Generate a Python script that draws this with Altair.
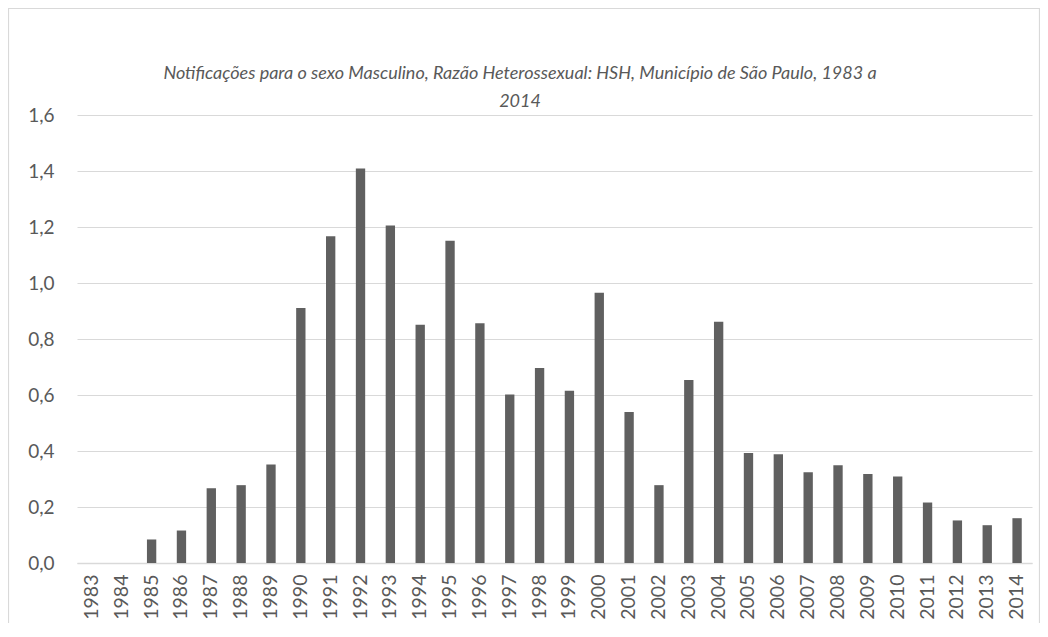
import altair as alt
import pandas as pd

years = ["1983", "1984", "1985", "1986", "1987", "1988", "1989", "1990",
         "1991", "1992", "1993", "1994", "1995", "1996", "1997", "1998",
         "1999", "2000", "2001", "2002", "2003", "2004", "2005", "2006",
         "2007", "2008", "2009", "2010", "2011", "2012", "2013", "2014"]
ratios = [0.0, 0.0, 0.084, 0.116, 0.267, 0.278, 0.352, 0.911,
          1.167, 1.409, 1.205, 0.851, 1.151, 0.856, 0.602, 0.696,
          0.615, 0.965, 0.539, 0.278, 0.654, 0.862, 0.393, 0.388,
          0.324, 0.349, 0.318, 0.309, 0.216, 0.152, 0.135, 0.160]
title_lines = ["Notificações para o sexo Masculino, Razão Heterossexual: HSH, Município de São Paulo, 1983 a",
               "2014"]
y_ticks = [0.0, 0.2, 0.4, 0.6, 0.8, 1.0, 1.2, 1.4, 1.6]

FONT = "Lato"
TXT = "#595959"
GRID = "#d9d9d9"

df = pd.DataFrame({"ano": years, "razao": ratios})

bars = alt.Chart(df).mark_bar(color="#606060").encode(
    x=alt.X("ano:N", sort=years,
            scale=alt.Scale(paddingInner=0.687, paddingOuter=0.3435),
            axis=alt.Axis(title=None, labelAngle=270, labelAlign="right",
                          labelBaseline="middle", labelPadding=11, ticks=False,
                          domainColor=GRID, domainWidth=1.5,
                          labelFont=FONT, labelFontSize=19.5, labelColor=TXT)),
    y=alt.Y("razao:Q", scale=alt.Scale(domain=[0, 1.6], nice=False),
            axis=alt.Axis(title=None, values=y_ticks, domain=False, ticks=False,
                          labelPadding=23, gridColor=GRID, gridWidth=1,
                          labelExpr="replace(format(datum.value, '.1f'), '.', ',')",
                          labelFont=FONT, labelFontSize=19, labelColor=TXT)),
)

border = alt.Chart(pd.DataFrame({"b": [0]})).mark_rect(
    fillOpacity=0, stroke=GRID, strokeWidth=1.2
).encode(
    x=alt.value(-68.5), x2=alt.value(962.5),
    y=alt.value(-106.5), y2=alt.value(700),
)

title = alt.Chart(pd.DataFrame({"b": [0]})).mark_text(
    text=title_lines, font=FONT, fontSize=18, fontStyle="italic",
    color=TXT, align="center", baseline="alphabetic", lineHeight=28
).encode(x=alt.value(443), y=alt.value(-36))

chart = alt.layer(border, bars, title).properties(
    width=955, height=448,
    padding={"left": 69, "top": 107, "right": 8, "bottom": 60},
    autosize=alt.AutoSizeParams(type="none"),
).configure_view(stroke=None)

chart.save("out.html", embed_options={"renderer": "svg", "actions": False})
